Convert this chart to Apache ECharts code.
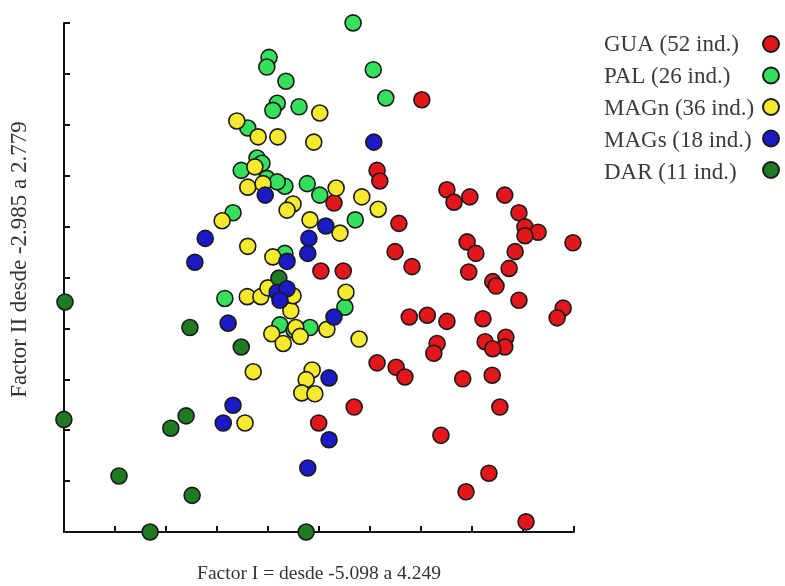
<!DOCTYPE html>
<html>
<head>
<meta charset="utf-8">
<script src="https://cdn.jsdelivr.net/npm/echarts@6/dist/echarts.min.js"></script>
<style>html,body{margin:0;padding:0;background:#fff}#c{width:785px;height:586px}</style>
</head>
<body>
<div id="c"></div>
<script>
// Factor ranges (from the axis titles)
const xRange = [-5.098, 4.249];
const yRange = [-2.985, 2.779];
const tickDivisions = 10;

const seriesNames = ['GUA (52 ind.)', 'PAL (26 ind.)', 'MAGn (36 ind.)', 'MAGs (18 ind.)', 'DAR (11 ind.)'];

// [Factor I, Factor II]
const GUA = [
  [1.46,1.91],[0.64,1.11],[0.69,0.99],[1.92,0.89],[2.05,0.75],[2.34,0.81],[2.98,0.83],[3.24,0.63],
  [3.35,0.47],[3.59,0.41],[3.35,0.37],[4.23,0.29],[1.04,0.51],[0.97,0.19],[1.28,0.02],[2.29,0.30],
  [2.45,0.17],[3.17,0.19],[3.06,0.00],[2.32,-0.04],[2.76,-0.15],[0.02,-0.03],[-0.39,-0.03],[-0.15,0.74],
  [3.24,-0.36],[4.05,-0.45],[3.94,-0.56],[1.23,-0.55],[1.56,-0.53],[1.92,-0.60],[2.58,-0.57],[1.74,-0.85],
  [1.68,-0.96],[2.62,-0.83],[3.00,-0.78],[2.98,-0.89],[2.76,-0.91],[0.64,-1.07],[0.99,-1.12],[1.15,-1.23],
  [2.21,-1.25],[2.75,-1.21],[0.22,-1.57],[2.89,-1.57],[1.81,-1.89],[2.69,-2.32],[2.27,-2.53],[3.37,-2.87],
  [-0.43,-1.75],[2.82,-0.20]
];
const PAL = [
  [0.20,2.78],[-1.34,2.39],[-1.38,2.28],[-1.03,2.12],[0.57,2.25],[0.80,1.93],[-1.19,1.87],[-1.27,1.79],
  [-0.79,1.83],[-1.73,1.59],[-1.56,1.25],[-1.85,1.11],[-1.38,1.02],[-1.05,0.93],[-0.64,0.96],[-0.41,0.83],
  [-2.00,0.63],[0.24,0.55],[-2.15,-0.34],[0.05,-0.44],[-1.14,-0.64],[-0.59,-0.67],[-1.05,0.17],[-1.19,0.98],
  [-0.88,-0.70],[-1.47,1.19]
];
const MAGn = [
  [-1.93,1.67],[-1.54,1.49],[-1.18,1.49],[-0.41,1.76],[-0.52,1.43],[-1.60,1.15],[-1.73,0.92],[-1.45,0.96],
  [-0.11,0.91],[0.36,0.81],[0.66,0.67],[-0.90,0.73],[-1.01,0.66],[-0.59,0.55],[-2.20,0.54],[-0.04,0.40],
  [-1.73,0.25],[-1.27,0.13],[0.07,-0.27],[-1.74,-0.32],[-1.49,-0.32],[-0.94,-0.48],[-1.29,-0.74],[-1.08,-0.85],
  [-0.85,-0.67],[-0.28,-0.69],[0.31,-0.80],[-1.63,-1.17],[-0.55,-1.15],[-0.66,-1.26],[-0.74,-1.41],[-0.50,-1.42],
  [-1.78,-1.75],[-1.36,-0.22],[-0.90,-0.31],[-0.77,-0.77]
];
const MAGs = [
  [0.58,1.43],[-1.41,0.83],[-2.51,0.34],[-2.70,0.07],[-0.30,0.48],[-0.61,0.34],[-0.63,0.17],[-1.01,0.08],
  [-1.19,-0.27],[-1.01,-0.23],[-1.14,-0.36],[-0.15,-0.55],[-2.09,-0.62],[-0.24,-1.24],[-2.00,-1.55],[-2.18,-1.75],
  [-0.24,-1.94],[-0.63,-2.26]
];
const DAR = [
  [-5.08,-0.38],[-5.10,-1.71],[-2.79,-0.67],[-1.85,-0.89],[-1.16,-0.11],[-2.86,-1.67],[-3.14,-1.81],[-4.09,-2.35],
  [-2.75,-2.57],[-3.52,-2.985],[-0.66,-2.985]
];

const colors = {
  'GUA (52 ind.)': '#e3161b',
  'PAL (26 ind.)': '#35e05c',
  'MAGn (36 ind.)': '#f6ea2e',
  'MAGs (18 ind.)': '#1a1ac6',
  'DAR (11 ind.)': '#1f7a22'
};
const dataByName = {
  'GUA (52 ind.)': GUA, 'PAL (26 ind.)': PAL, 'MAGn (36 ind.)': MAGn,
  'MAGs (18 ind.)': MAGs, 'DAR (11 ind.)': DAR
};

// map factor values onto the ten axis divisions
function norm(p) {
  return [
    (p[0] - xRange[0]) / (xRange[1] - xRange[0]) * tickDivisions,
    (p[1] - yRange[0]) / (yRange[1] - yRange[0]) * tickDivisions
  ];
}

const drawOrder = ['GUA (52 ind.)', 'PAL (26 ind.)', 'MAGn (36 ind.)', 'DAR (11 ind.)', 'MAGs (18 ind.)'];
const series = drawOrder.map(n => ({
  name: n,
  type: 'scatter',
  symbol: 'circle',
  symbolSize: 16,
  clip: false,
  data: dataByName[n].map(norm),
  itemStyle: { color: colors[n], borderColor: '#1a1a1a', borderWidth: 1.6, opacity: 1 },
  emphasis: { disabled: true }
}));

const font = 'Liberation Serif, Times New Roman, serif';
const axisCommon = {
  type: 'value', min: 0, max: tickDivisions, interval: 1,
  axisLine: { show: true, onZero: false, lineStyle: { color: '#111', width: 2 } },
  axisTick: { show: true, inside: true, length: 6, lineStyle: { color: '#111', width: 2 } },
  axisLabel: { show: false },
  splitLine: { show: false },
  nameLocation: 'middle'
};

const chart = echarts.init(document.getElementById('c'), null, { renderer: 'canvas' });
chart.setOption({
  animation: false,
  backgroundColor: '#fff',
  grid: { left: 64, right: 211, top: 23, bottom: 54, containLabel: false, outerBoundsMode: 'none' },
  xAxis: Object.assign({}, axisCommon, {
    name: 'Factor I = desde -5.098 a 4.249', nameGap: 32,
    nameTextStyle: { fontFamily: font, fontSize: 19.5, color: '#333' }
  }),
  yAxis: Object.assign({}, axisCommon, {
    name: 'Factor II desde -2.985 a 2.779', nameGap: 33,
    nameTextStyle: { fontFamily: font, fontSize: 23, color: '#333', padding: [0, 0, 0, 36] }
  }),
  legend: [
    {
      data: seriesNames, orient: 'vertical', left: 593, top: 28,
      itemWidth: 0, itemHeight: 0, itemGap: 9, selectedMode: false,
      itemStyle: { opacity: 0 },
      textStyle: { fontFamily: font, fontSize: 23, lineHeight: 23, color: '#3a3a3a' }
    },
    {
      data: seriesNames, orient: 'vertical', left: 757, top: 30,
      icon: 'circle', itemWidth: 16, itemHeight: 16, itemGap: 13.5, selectedMode: false,
      formatter: function () { return ''; },
      textStyle: { fontSize: 10, lineHeight: 16 }
    }
  ],
  series: series
});
</script>
</body>
</html>
